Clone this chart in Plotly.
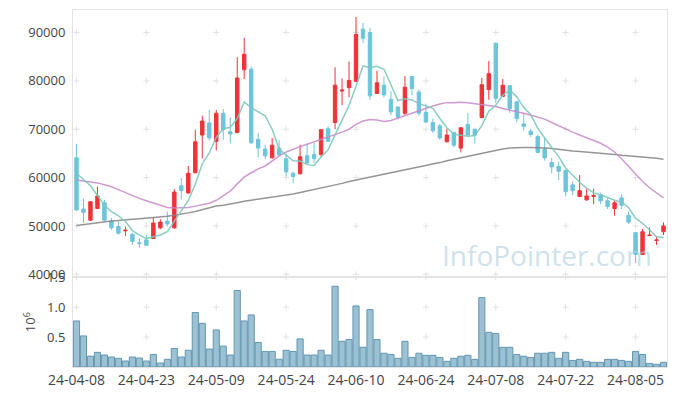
import plotly.graph_objects as go

dates = [
    "24-04-08", "24-04-09", "24-04-11", "24-04-12", "24-04-15", "24-04-16", "24-04-17", "24-04-18",
    "24-04-19", "24-04-22", "24-04-23", "24-04-24", "24-04-25", "24-04-26", "24-04-29", "24-04-30",
    "24-05-02", "24-05-03", "24-05-07", "24-05-08", "24-05-09", "24-05-10", "24-05-13", "24-05-14",
    "24-05-16", "24-05-17", "24-05-20", "24-05-21", "24-05-22", "24-05-23", "24-05-24", "24-05-27",
    "24-05-28", "24-05-29", "24-05-30", "24-05-31", "24-06-03", "24-06-04", "24-06-05", "24-06-07",
    "24-06-10", "24-06-11", "24-06-12", "24-06-13", "24-06-14", "24-06-17", "24-06-18", "24-06-19",
    "24-06-20", "24-06-21", "24-06-24", "24-06-25", "24-06-26", "24-06-27", "24-06-28", "24-07-01",
    "24-07-02", "24-07-03", "24-07-04", "24-07-05", "24-07-08", "24-07-09", "24-07-10", "24-07-11",
    "24-07-12", "24-07-15", "24-07-16", "24-07-17", "24-07-18", "24-07-19", "24-07-22", "24-07-23",
    "24-07-24", "24-07-25", "24-07-26", "24-07-29", "24-07-30", "24-07-31", "24-08-01", "24-08-02",
    "24-08-05", "24-08-06", "24-08-07", "24-08-08", "24-08-09",
]

open_ = [64100, 53500, 51200, 53600, 54800, 51000, 49900, 49000, 48300, 46500,
         47100, 47400, 49600, 51000, 49600, 58300, 56800, 61000, 68800, 71300,
         67500, 73300, 69500, 69300, 82300, 82400, 67900, 65900, 64100, 66100,
         63900, 60900, 60800, 64500, 64800, 64800, 70100, 71400, 77900, 78600,
         79900, 90700, 90000, 77400, 79100, 76200, 74600, 73300, 80900, 77700,
         73500, 71400, 70700, 67400, 69300, 66100, 71000, 70000, 72400, 78200,
         87800, 76800, 79000, 75700, 71100, 69600, 68500, 65900, 63100, 62300,
         61500, 58500, 56100, 55400, 56100, 56500, 55200, 53600, 55800, 52200,
         48600, 44100, 48000, 47000, 48800]
high = [67000, 55700, 55100, 58100, 55400, 51700, 51000, 49900, 48500, 47400,
        48100, 51700, 51400, 53000, 57600, 59900, 62400, 69900, 72800, 74000,
        74000, 74200, 72500, 84900, 88900, 83000, 69200, 66800, 68200, 67700,
        65000, 61200, 66800, 67000, 67200, 70000, 70600, 82800, 80500, 84000,
        93200, 92000, 91000, 82100, 80900, 77900, 74700, 81000, 81000, 78200,
        75300, 72200, 71100, 70100, 69500, 70400, 73300, 70100, 80600, 84100,
        87900, 80400, 79100, 75800, 73300, 70100, 68900, 68200, 64100, 63300,
        61600, 59200, 60500, 57600, 57700, 56900, 55800, 55400, 56600, 53000,
        48600, 49400, 49700, 47800, 50700]
low = [53100, 50600, 51000, 53500, 51000, 49200, 48200, 47900, 46100, 45500,
       45800, 47300, 49300, 49900, 49400, 55500, 56700, 60900, 64000, 67700,
       65600, 67800, 67100, 69200, 80400, 67000, 64200, 63800, 63900, 64400,
       60200, 58800, 60600, 62900, 63000, 64300, 67400, 70000, 75000, 76600,
       79800, 87800, 76100, 77300, 76600, 72900, 72000, 72900, 77000, 72800,
       71300, 69200, 67800, 67300, 66300, 65200, 68400, 67000, 72300, 76100,
       75400, 76700, 73400, 71400, 69700, 68400, 65100, 63500, 60900, 59500,
       56100, 56400, 56000, 55200, 54500, 54500, 53500, 52100, 53500, 50400,
       42300, 44000, 47900, 46100, 48100]
close = [53300, 52800, 55000, 56200, 51200, 49600, 48500, 49100, 46800, 46400,
         46000, 50600, 50800, 50400, 57000, 57300, 60900, 67400, 71700, 68200,
         73300, 69900, 69000, 80600, 85500, 67200, 66100, 64500, 66700, 64700,
         61200, 60200, 64300, 63000, 63900, 69900, 67500, 79100, 78100, 80100,
         89600, 88800, 76900, 79600, 77100, 73600, 72500, 78700, 78400, 73300,
         71500, 69700, 68200, 68800, 66700, 70300, 68800, 68800, 79200, 81500,
         76400, 79100, 74300, 72200, 70600, 68900, 65200, 64100, 62200, 61300,
         57100, 57300, 57300, 56200, 56300, 55200, 54000, 54800, 54300, 50800,
         44100, 48800, 48100, 47100, 50000]

ma5 = [60900, 59600, 58300, 56300, 54300, 52960, 52100, 50920, 49040, 48080,
       47360, 47780, 48120, 48840, 50960, 53220, 55280, 58600, 62860, 65100,
       68300, 70100, 70420, 72200, 75660, 74440, 73680, 72780, 70000, 65840,
       64640, 63460, 63420, 62680, 62520, 64260, 65720, 68680, 71700, 74940,
       78880, 83140, 82700, 83000, 82400, 79200, 75940, 76300, 76060, 75300,
       74880, 74320, 72220, 70300, 68980, 68740, 68560, 68680, 70760, 73720,
       74940, 77000, 78100, 76700, 74520, 73020, 70240, 68200, 66200, 64340,
       61980, 60400, 59040, 57840, 56840, 56460, 55800, 55300, 54920, 53820,
       51600, 50560, 49220, 47780, 47620]
ma20 = [59500, 59300, 59100, 58900, 58500, 58100, 57500, 56900, 56200, 55700,
        55200, 54700, 54200, 53800, 53700, 53700, 53800, 54100, 54400, 54700,
        55300, 56200, 57200, 58700, 60100, 61000, 61800, 62400, 63500, 64500,
        65300, 65900, 66400, 66900, 67400, 67800, 68300, 68800, 69400, 70000,
        71000, 71700, 72000, 71900, 71600, 71800, 72300, 72900, 73400, 73900,
        74400, 74800, 75200, 75500, 75500, 75600, 75500, 75300, 75100, 75000,
        74700, 74300, 74000, 73600, 73300, 72900, 72500, 72100, 71400, 70700,
        70000, 69400, 68800, 68200, 67700, 67100, 66300, 65300, 63900, 62300,
        60700, 59200, 57900, 56900, 55800]
ma60 = [50100, 50300, 50500, 50700, 50900, 51000, 51100, 51300, 51400, 51500,
        51600, 51700, 51800, 52000, 52200, 52400, 52700, 53000, 53400, 53800,
        54100, 54300, 54500, 54800, 55100, 55300, 55500, 55700, 55900, 56100,
        56300, 56600, 56900, 57200, 57500, 57800, 58100, 58500, 58800, 59200,
        59500, 59800, 60100, 60400, 60600, 60900, 61300, 61600, 61900, 62200,
        62500, 62800, 63100, 63500, 63800, 64100, 64400, 64800, 65100, 65400,
        65700, 65900, 66100, 66200, 66200, 66200, 66200, 66100, 66000, 65800,
        65600, 65500, 65400, 65300, 65100, 65000, 64900, 64800, 64600, 64500,
        64400, 64300, 64100, 64000, 63800]

volume = [770000, 520000, 180000, 245000, 200000, 167000, 145000, 100000, 167000, 150000,
          100000, 210000, 67000, 128000, 310000, 167000, 280000, 910000, 730000, 300000,
          620000, 350000, 200000, 1280000, 770000, 870000, 410000, 260000, 260000, 130000,
          280000, 260000, 470000, 200000, 200000, 280000, 200000, 1350000, 430000, 460000,
          1020000, 330000, 960000, 460000, 230000, 210000, 145000, 430000, 160000, 230000,
          195000, 195000, 160000, 95000, 145000, 180000, 195000, 128000, 1160000, 580000,
          560000, 330000, 330000, 210000, 180000, 160000, 230000, 230000, 245000, 145000,
          245000, 110000, 128000, 95000, 78000, 78000, 128000, 128000, 110000, 95000,
          260000, 210000, 60000, 45000, 78000]

price_ticks = [40000, 50000, 60000, 70000, 80000, 90000]
price_tick_text = ["40000", "50000", "60000", "70000", "80000", "90000"]
vol_ticks = [500000, 1000000, 1500000]
vol_tick_text = ["0.5", "1.0", "1.5"]
x_ticks = dates[::10]

font_family = "Open Sans"
grid_col = "#e2e2e2"
border_col = "#e3e3e3"

fig = go.Figure()

# small grid crosses at tick intersections, drawn below the data
shapes = []
def add_cross(xv, yv, xref, yref):
    shapes.append(dict(type="line", layer="below", xref=xref, yref=yref,
                       xsizemode="pixel", xanchor=xv, x0=-3, x1=3, y0=yv, y1=yv,
                       line=dict(color=grid_col, width=1)))
    shapes.append(dict(type="line", layer="below", xref=xref, yref=yref,
                       ysizemode="pixel", yanchor=yv, y0=-3, y1=3, x0=xv, x1=xv,
                       line=dict(color=grid_col, width=1)))

for d in x_ticks:
    for p in price_ticks:
        add_cross(d, p, "x", "y")
    for v in vol_ticks:
        add_cross(d, v, "x2", "y2")

fig.add_trace(go.Candlestick(
    x=dates, open=open_, high=high, low=low, close=close,
    xaxis="x", yaxis="y",
    increasing=dict(line=dict(color="#ee3338", width=1), fillcolor="#ee3338"),
    decreasing=dict(line=dict(color="#6cc5db", width=1), fillcolor="#6cc5db"),
    whiskerwidth=0, showlegend=False))

fig.add_trace(go.Scatter(x=dates, y=ma60, mode="lines", xaxis="x", yaxis="y",
                         line=dict(color="rgba(130,130,130,0.85)", width=1.5), showlegend=False))
fig.add_trace(go.Scatter(x=dates, y=ma20, mode="lines", xaxis="x", yaxis="y",
                         line=dict(color="rgba(200,135,200,0.85)", width=1.5), showlegend=False))
fig.add_trace(go.Scatter(x=dates, y=ma5, mode="lines", xaxis="x", yaxis="y",
                         line=dict(color="rgba(125,200,190,0.9)", width=1.5), showlegend=False))

fig.add_trace(go.Bar(x=dates, y=volume, xaxis="x2", yaxis="y2",
                     marker=dict(color="rgba(145,186,206,0.9)",
                                 line=dict(color="#6197b0", width=1)),
                     showlegend=False))

# the page body adds an 8px margin, so the figure is sized to fit inside it
split = 0.2513
fig.update_layout(
    width=661, height=380,
    margin=dict(l=65, r=1.5, t=2, b=21, autoexpand=False),
    paper_bgcolor="white", plot_bgcolor="white",
    font=dict(family=font_family, size=13, color="#444"),
    bargap=0.12,
    shapes=shapes,
    xaxis=dict(domain=[0, 1], anchor="y", type="category", categoryorder="array",
               categoryarray=dates, range=[-0.5, len(dates) - 0.5],
               showticklabels=False, showgrid=False, zeroline=False,
               showline=True, mirror=True, linecolor=border_col, linewidth=1,
               rangeslider=dict(visible=False), matches="x2", automargin=False),
    yaxis=dict(domain=[split, 1], anchor="x", range=[39380, 94660],
               tickvals=price_ticks, ticktext=price_tick_text, showgrid=False, zeroline=False,
               showline=True, mirror=True, linecolor=border_col, linewidth=1,
               ticks="", ticklabelstandoff=4, automargin=False,
               tickfont=dict(size=13, color="#444")),
    xaxis2=dict(domain=[0, 1], anchor="y2", type="category", categoryorder="array",
                categoryarray=dates, range=[-0.5, len(dates) - 0.5],
                tickvals=x_ticks, showgrid=False, zeroline=False,
                showline=True, mirror=True, linecolor=border_col, linewidth=1,
                ticks="", tickangle=0, automargin=False,
                tickfont=dict(size=14, color="#444")),
    yaxis2=dict(domain=[0, split], anchor="x2", range=[0, 1500000],
                tickvals=vol_ticks, ticktext=vol_tick_text, showgrid=False,
                zeroline=False, showline=True, mirror=True, linecolor=border_col,
                linewidth=1, ticks="", ticklabelstandoff=4, automargin=False,
                tickfont=dict(size=13, color="#444"),
                title=dict(text="10<sup>6</sup>", font=dict(size=13, color="#444"), standoff=8)),
    annotations=[dict(text="InfoPointer.com", xref="paper", yref="paper",
                      x=0.978, y=split + 0.003, xanchor="right", yanchor="bottom",
                      showarrow=False,
                      font=dict(family=font_family, size=28, color="rgba(175,205,220,0.6)"))],
)

fig.write_html("out.html")
